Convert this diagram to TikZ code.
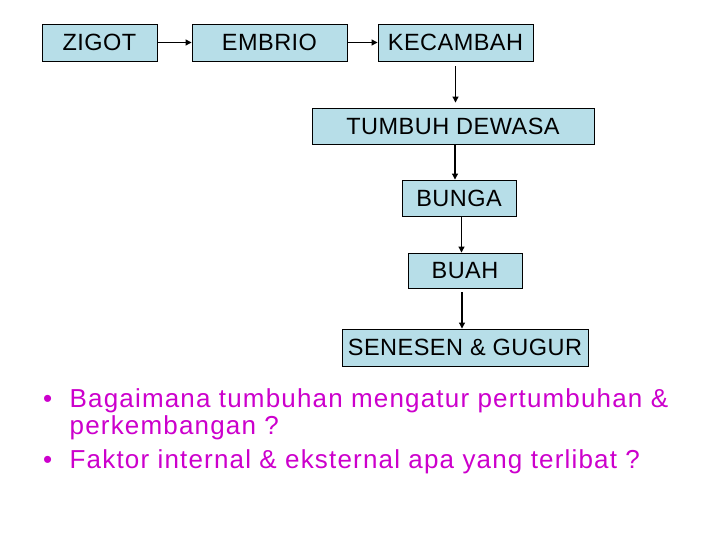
\documentclass[tikz,border=0pt]{standalone}
\usepackage{fontspec}
\usetikzlibrary{arrows.meta}
\setmainfont{Liberation Sans}
\newfontfamily\stagefont[LetterSpace=2]{Liberation Sans}
\newfontfamily\askfont[LetterSpace=4.5]{Liberation Sans}
\definecolor{stageblue}{RGB}{183,222,232}
\definecolor{askpink}{RGB}{204,0,204}

\begin{document}
	\begin{tikzpicture}[x=1pt, y=-1pt,
		stage/.style={draw=black, fill=stageblue, line width=0.9pt, inner sep=0pt, minimum height=36pt, font=\stagefont\fontsize{23.5}{28}\selectfont},
		flow/.style={-{Triangle[length=6pt,width=6pt]}, line width=1.1pt},
		ask/.style={anchor=base west, inner sep=0pt, text=askpink, font=\askfont\fontsize{26}{30}\selectfont}]
		\useasboundingbox (0,0) rectangle (720,540);
		\begin{scope}
			\node[stage, minimum width=115pt, minimum height=37pt] (zigot) at (99.5,42.5) {ZIGOT};
			\node[stage, minimum width=155pt, minimum height=37pt] (embrio) at (269.5,42.5) {EMBRIO};
			\node[stage, minimum width=155pt, minimum height=37pt] (kecambah) at (455.5,42.5) {KECAMBAH};
			\node[stage, minimum width=282pt] (dewasa) at (453,126) {TUMBUH DEWASA};
			\node[stage, minimum width=114pt] (bunga) at (459,198) {BUNGA};
			\node[stage, minimum width=114pt, minimum height=35pt] (buah) at (465,270.5) {BUAH};
			\node[stage, minimum width=246pt, minimum height=37pt] (senesen) at (465,347.5) {SENESEN \& GUGUR};
			
			\draw[flow] (zigot) -- (embrio);
			\draw[flow] (embrio) -- (kecambah);
			\draw[flow, shorten <=5pt, shorten >=5pt] (kecambah.south) -- (kecambah.south |- dewasa.north);
			\draw[flow] ([xshift=-4pt]bunga.north |- dewasa.south) -- ([xshift=-4pt]bunga.north);
			\draw[flow] ([xshift=2.5pt]bunga.south) -- ([xshift=2.5pt]bunga.south |- buah.north);
			\draw[flow, shorten <=4pt] ([xshift=-3pt]buah.south) -- ([xshift=-3pt]buah.south |- senesen.north);
		\end{scope}
		
		\node[ask] (dot1) at (43,407) {•};
		\node[ask] (ask1) at (69.5,407) {Bagaimana tumbuhan mengatur pertumbuhan \&};
		\node[ask] (ask1b) at (69.5,434) {perkembangan ?};
		\node[ask] (dot2) at (43,468) {•};
		\node[ask] (ask2) at (69.5,468) {Faktor internal \& eksternal apa yang terlibat ?};
	\end{tikzpicture}
\end{document}
